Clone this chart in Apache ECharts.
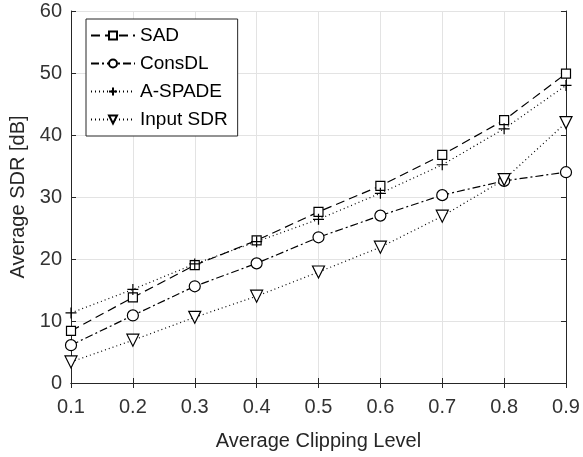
<!DOCTYPE html>
<html>
<head>
<meta charset="utf-8">
<script src="https://cdn.jsdelivr.net/npm/echarts@6/dist/echarts.min.js"></script>
<style>
  html, body { margin: 0; padding: 0; background: #fff; }
  #chart { width: 583px; height: 457px; }
</style>
</head>
<body>
<div id="chart"></div>
<script>
// clipping levels on the x axis
var levels = ['0.1', '0.2', '0.3', '0.4', '0.5', '0.6', '0.7', '0.8', '0.9'];
// average SDR in dB
var sad = [8.4, 13.8, 19.0, 23.0, 27.6, 31.8, 36.8, 42.4, 49.9];
var consDL = [6.1, 10.9, 15.6, 19.3, 23.5, 27.0, 30.3, 32.6, 34.0];
var aSpade = [11.3, 15.1, 19.2, 22.8, 26.4, 30.6, 35.2, 41.0, 48.0];
var inputSdr = [3.4, 6.9, 10.6, 14.0, 17.9, 21.9, 26.9, 32.8, 42.0];

var font = 'Liberation Sans, Arial, Helvetica, sans-serif';
var axisCol = '#262626';
var plusIcon = 'path://M5,0 L5,10 M0,5 L10,5';
var triDown = 'path://M0,0 L10,0 L5,9 Z';

var chart = echarts.init(document.getElementById('chart'));

function mkSeries(name, data, symbol, size, dash) {
  return {
    name: name,
    type: 'line',
    data: data,
    symbol: symbol,
    symbolSize: size,
    showAllSymbol: true,
    animation: false,
    lineStyle: { color: '#000', width: 1.2, type: dash },
    itemStyle: { color: symbol === plusIcon ? 'none' : '#fff', borderColor: '#000', borderWidth: 1.2 }
  };
}

var options = {
  textStyle: { fontFamily: font },
  animation: false,
  grid: { left: 71, right: 17, top: 11, bottom: 74, containLabel: false, outerBoundsMode: 'none' },
  legend: {
    orient: 'vertical',
    left: 86,
    top: 19,
    itemWidth: 44,
    itemHeight: 10,
    itemGap: 9,
    padding: [7, 10, 7, 4],
    backgroundColor: '#fff',
    borderColor: axisCol,
    borderWidth: 1,
    textStyle: { fontSize: 19, color: '#000', fontFamily: font },
    data: ['SAD', 'ConsDL', 'A-SPADE', 'Input SDR']
  },
  xAxis: [
    {
      type: 'category',
      data: levels,
      boundaryGap: false,
      name: 'Average Clipping Level',
      nameLocation: 'middle',
      nameGap: 48,
      nameTextStyle: { fontSize: 20, color: '#262626' },
      axisLine: { lineStyle: { color: axisCol } },
      axisTick: { inside: true, length: 5, lineStyle: { color: axisCol } },
      axisLabel: { fontSize: 20, color: '#333', margin: 14 },
      splitLine: { show: true, lineStyle: { color: '#e3e3e3' } }
    },
    {
      type: 'category',
      data: levels,
      boundaryGap: false,
      position: 'top',
      axisLine: { lineStyle: { color: axisCol } },
      axisTick: { inside: true, length: 5, lineStyle: { color: axisCol } },
      axisLabel: { show: false },
      splitLine: { show: false }
    }
  ],
  yAxis: [
    {
      type: 'value',
      min: 0,
      max: 60,
      interval: 10,
      name: 'Average SDR [dB]',
      nameLocation: 'middle',
      nameGap: 43,
      nameTextStyle: { fontSize: 20, color: '#262626' },
      axisLine: { show: true, lineStyle: { color: axisCol } },
      axisTick: { show: true, inside: true, length: 5, lineStyle: { color: axisCol } },
      axisLabel: { fontSize: 20, color: '#333', margin: 9 },
      splitLine: { show: true, lineStyle: { color: '#e3e3e3' } }
    },
    {
      type: 'value',
      min: 0,
      max: 60,
      interval: 10,
      position: 'right',
      axisLine: { show: true, lineStyle: { color: axisCol } },
      axisTick: { show: true, inside: true, length: 5, lineStyle: { color: axisCol } },
      axisLabel: { show: false },
      splitLine: { show: false }
    }
  ],
  series: [
    mkSeries('SAD', sad, 'rect', 9, [9, 5]),
    mkSeries('ConsDL', consDL, 'circle', 11, [8, 3, 2, 3]),
    mkSeries('A-SPADE', aSpade, plusIcon, 11, [1, 3]),
    mkSeries('Input SDR', inputSdr, triDown, 12, [1, 3])
  ]
};

chart.setOption(options);
</script>
</body>
</html>
